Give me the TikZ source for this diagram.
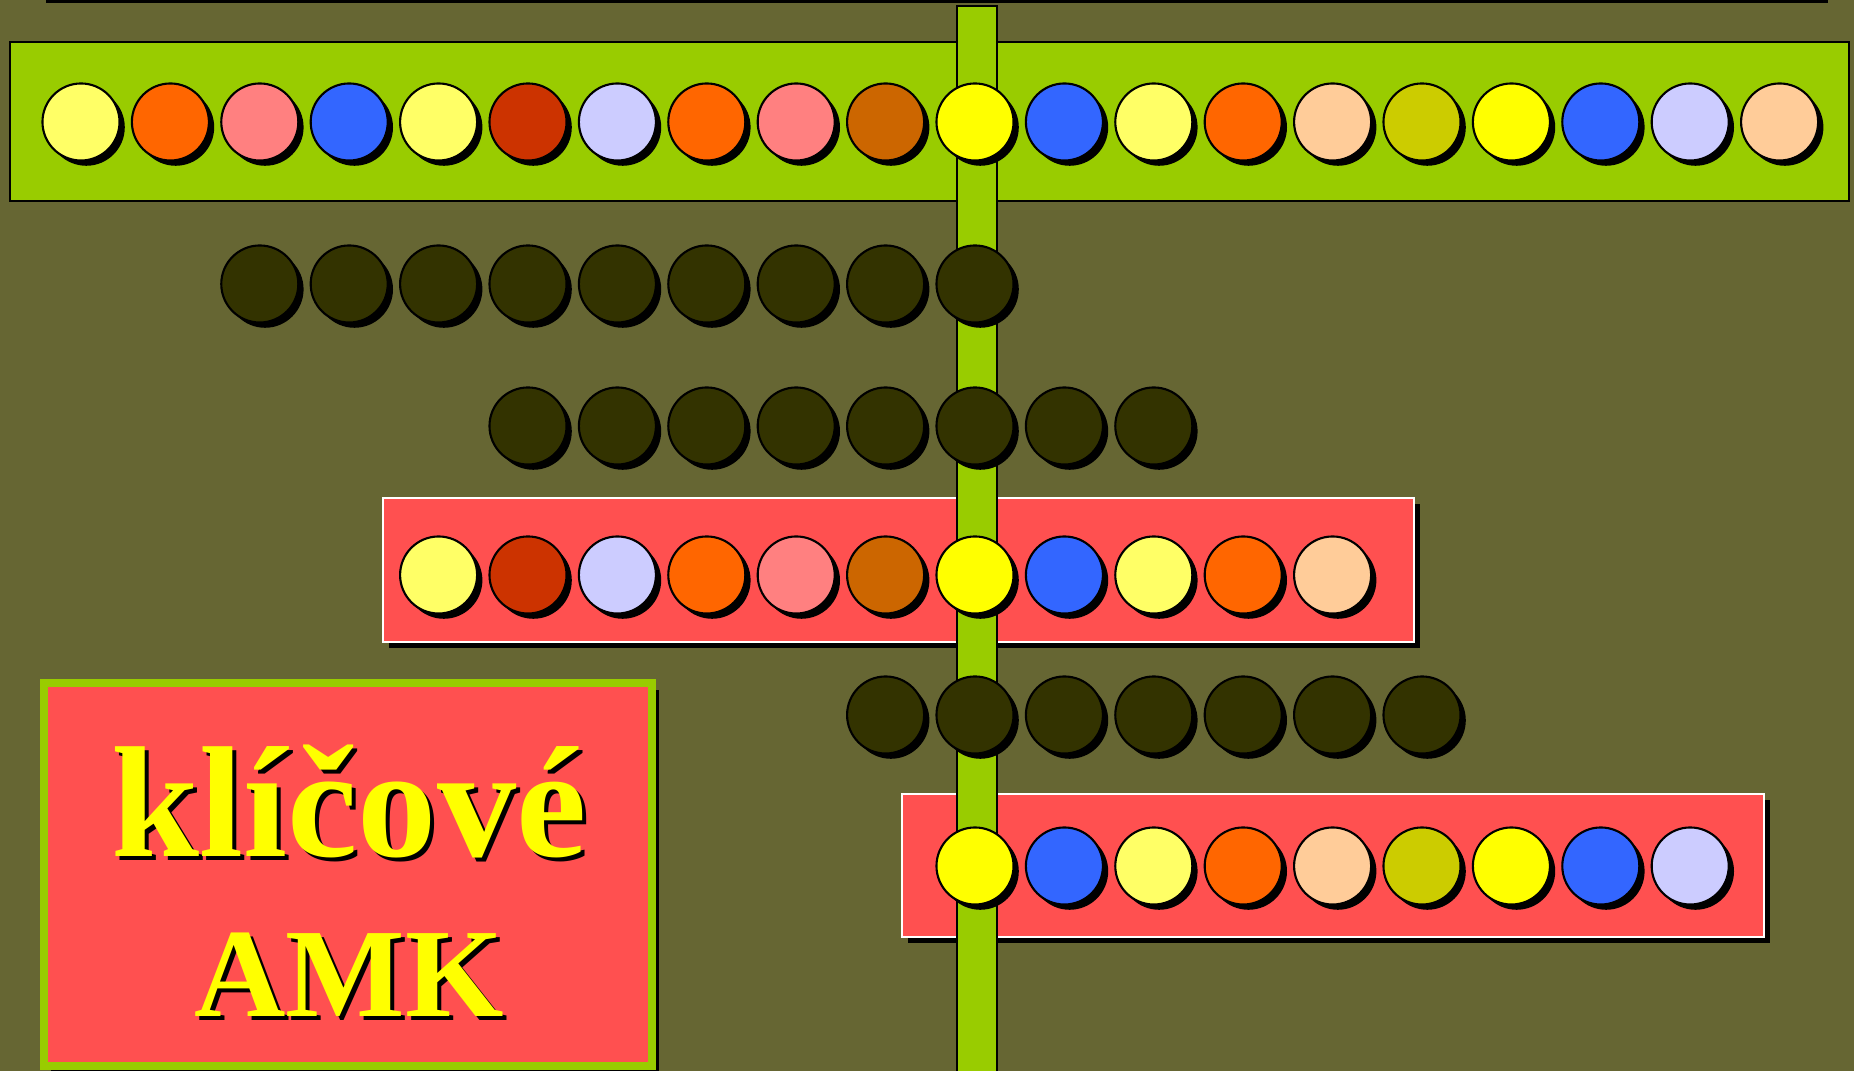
\documentclass[tikz,border=0pt]{standalone}
\usepackage{fontspec}
\setmainfont{Liberation Serif}
\usetikzlibrary{shadows}

\definecolor{olivebg}{HTML}{666633}
\definecolor{limebar}{HTML}{99CC00}
\definecolor{redbox}{HTML}{FF5050}
\definecolor{darkball}{HTML}{333300}
\definecolor{cPale}{HTML}{FFFF66}
\definecolor{cOrange}{HTML}{FF6600}
\definecolor{cPink}{HTML}{FF8080}
\definecolor{cBlue}{HTML}{3366FF}
\definecolor{cRust}{HTML}{CC3300}
\definecolor{cLilac}{HTML}{CCCCFF}
\definecolor{cBrown}{HTML}{CC6600}
\definecolor{cYellow}{HTML}{FFFF00}
\definecolor{cPeach}{HTML}{FFCC99}
\definecolor{cOlive}{HTML}{CCCC00}

\begin{document}
\begin{tikzpicture}[
    x=0.01cm, y=-0.01cm,
    ball/.style={circle, draw=black, line width=0.6pt, minimum size=0.77cm, inner sep=0pt,
        drop shadow={shadow xshift=1.5pt, shadow yshift=-1.5pt, fill=black, opacity=1}},
    gapball/.style={ball, fill=darkball},
    greenbar/.style={draw=black, fill=limebar, line width=0.6pt},
    redbar/.style={draw=white, fill=redbox, line width=0.6pt,
        drop shadow={shadow xshift=1.7pt, shadow yshift=-1.7pt, fill=black, opacity=1}},
    keytext/.style={font=\bfseries, text=cYellow, inner sep=0pt, anchor=base},
    keyshadow/.style={keytext, text=black}
]
    % Background
    \useasboundingbox (0,0) rectangle (1854,1071);
    \fill[olivebg] (0,0) rectangle (1854,1071);
    \draw[line width=1.2pt] (46,1) -- (1828,1);

    % Bars
    \draw[greenbar] (10,42) rectangle (1849,201);
    \draw[redbar] (383,498) rectangle (1414,642);
    \draw[redbar] (902,794) rectangle (1764,937);
    \draw[draw=limebar, fill=redbox, line width=2.3pt,
        drop shadow={shadow xshift=2pt, shadow yshift=-2pt, fill=black, opacity=1}]
        (44,683) rectangle (652,1066);
    \draw[greenbar] (957,6) rectangle (997,1080);

    % Full chain
    \foreach \col [count=\i from 0] in {cPale, cOrange, cPink, cBlue, cPale, cRust, cLilac,
        cOrange, cPink, cBrown, cYellow, cBlue, cPale, cOrange, cPeach, cOlive, cYellow,
        cBlue, cLilac, cPeach}
        \node[ball, fill=\col] (seq-\i) at ({81+89.4*\i},122) {};

    % Cut chains
    \foreach \i in {2,...,10}
        \node[gapball] (gapA-\i) at ({81+89.4*\i},284) {};
    \foreach \i in {5,...,12}
        \node[gapball] (gapB-\i) at ({81+89.4*\i},426) {};
    \foreach \col [count=\i from 4] in {cPale, cRust, cLilac, cOrange, cPink, cBrown,
        cYellow, cBlue, cPale, cOrange, cPeach}
        \node[ball, fill=\col] (frag-\i) at ({81+89.4*\i},575) {};
    \foreach \i in {9,...,15}
        \node[gapball] (gapC-\i) at ({81+89.4*\i},715) {};
    \foreach \col [count=\i from 10] in {cYellow, cBlue, cPale, cOrange, cPeach, cOlive,
        cYellow, cBlue, cLilac}
        \node[ball, fill=\col] (core-\i) at ({81+89.4*\i},866) {};

    % Label
    \node[keyshadow, font=\bfseries\fontsize{45}{50}\selectfont] (wordshadow) at (353,861) {klíčové};
    \node[keytext, font=\bfseries\fontsize{45}{50}\selectfont] (word) at (349,857) {klíčové};
    \node[keyshadow, font=\bfseries\fontsize{36}{40}\selectfont] (amkshadow) at (353,1021) {AMK};
    \node[keytext, font=\bfseries\fontsize{36}{40}\selectfont] (amk) at (349,1017) {AMK};
\end{tikzpicture}
\end{document}
